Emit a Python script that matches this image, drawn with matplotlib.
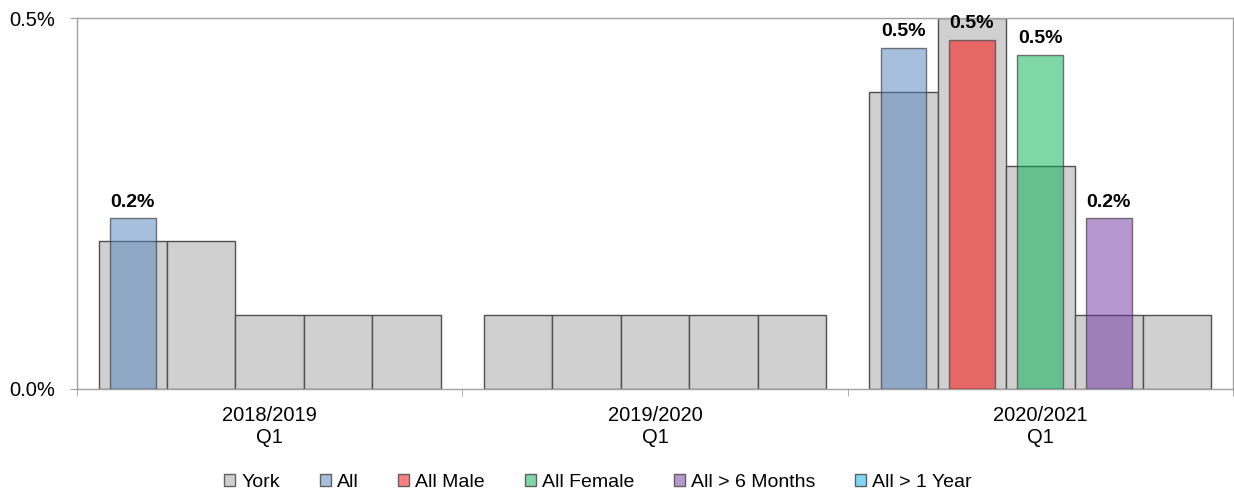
import numpy as np
import matplotlib
matplotlib.use('Agg')
import matplotlib.pyplot as plt
from matplotlib.patches import Patch

plt.rcParams['font.family'] = ['Liberation Sans', 'DejaVu Sans']

periods = ['2018/2019\nQ1', '2019/2020\nQ1', '2020/2021\nQ1']
series = ['All', 'All Male', 'All Female', 'All > 6 Months', 'All > 1 Year']
colors = ['#4f81bd', '#ff0000', '#00b050', '#7030a0', '#00b0f0']

# York comparison values (%), one row per period, one column per series
york = [
    [0.2, 0.2, 0.1, 0.1, 0.1],
    [0.1, 0.1, 0.1, 0.1, 0.1],
    [0.4, 0.5, 0.3, 0.1, 0.1],
]
# series values (%), nan = no value
values = [
    [0.23, np.nan, np.nan, np.nan, np.nan],
    [np.nan, np.nan, np.nan, np.nan, np.nan],
    [0.46, 0.47, 0.45, 0.23, np.nan],
]


def main():
    fig = plt.figure(figsize=(12.34, 4.95), dpi=100)
    ax = fig.add_axes([77 / 1234, 1 - 389 / 495, 1156 / 1234, 371 / 495])

    wide = 0.1775
    narrow = 0.119
    for i in range(len(periods)):
        for j in range(len(series)):
            x = i + (j - 2) * wide
            ax.bar(x, york[i][j], width=wide, color='#d0d0d0',
                   edgecolor='#505050', linewidth=1.0, zorder=2)
    for i in range(len(periods)):
        for j in range(len(series)):
            v = values[i][j]
            if np.isnan(v):
                continue
            x = i + (j - 2) * wide
            rgba = matplotlib.colors.to_rgba(colors[j], 0.5)
            ax.bar(x, v, width=narrow, color=rgba,
                   edgecolor=(0.25, 0.25, 0.25, 0.7), linewidth=1.0, zorder=3)
            ax.annotate('{:.1f}%'.format(v), (x, v), xytext=(0, 8.5),
                        textcoords='offset points', ha='center', va='baseline',
                        fontsize=14, fontweight='bold', annotation_clip=False)

    ax.set_xlim(-0.5, 2.5)
    ax.set_ylim(0, 0.5)
    ax.set_yticks([0, 0.5])
    ax.set_yticklabels(['0.0%', '0.5%'], fontsize=14.5)
    ax.set_xticks(range(len(periods)))
    ax.set_xticklabels(periods, fontsize=14.5, linespacing=1.2)
    ax.set_xticks([-0.5, 0.5, 1.5, 2.5], minor=True)
    ax.tick_params(axis='x', which='major', length=0, pad=12)
    ax.tick_params(axis='x', which='minor', length=5, color='#a0a0a0')
    ax.tick_params(axis='y', length=5, color='#a0a0a0', pad=11)
    for s in ax.spines.values():
        s.set_color('#a0a0a0')
        s.set_linewidth(1.0)

    handles = [Patch(facecolor='#d0d0d0', edgecolor='#606060', label='York')]
    for c, name in zip(colors, series):
        handles.append(Patch(facecolor=matplotlib.colors.to_rgba(c, 0.5),
                             edgecolor='#606060', label=name))
    fig.legend(handles=handles, loc='center', bbox_to_anchor=(0.4846, 0.026),
               ncol=6, frameon=False, fontsize=14, handlelength=0.57,
               handleheight=0.57, handletextpad=0.3, columnspacing=2.05,
               borderpad=0, borderaxespad=0)

    fig.savefig('out.png', dpi=100)


if __name__ == '__main__':
    main()
